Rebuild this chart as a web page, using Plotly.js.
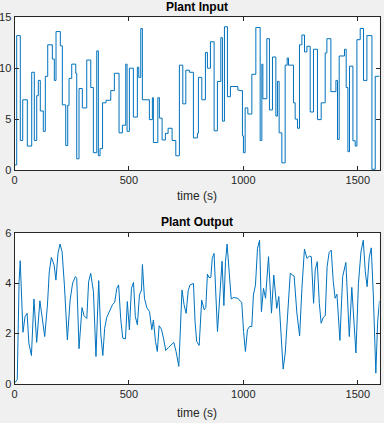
<!DOCTYPE html>
<html>
<head>
<meta charset="utf-8">
<script src="https://cdn.plot.ly/plotly-3.0.1.min.js"></script>
<style>html,body{margin:0;padding:0;background:#f0f0f0;}#chart{width:384px;height:423px;}</style>
</head>
<body>
<div id="chart"></div>
<script>
// Plant input (stairs): step start times (s) and held values
const inputTime = [0, 9.6, 25.4, 35.9, 56, 75.2, 86.6, 97.1, 104.1, 112.8, 125.9, 134.7, 145.2, 165.3, 174, 181.5, 200.3, 209, 223.9, 232.6, 238.3, 250.1, 267.6, 272, 282, 296.5, 315.7, 333.2, 344.6, 359.4, 366.4, 373.9, 384.8, 400.1, 420.6, 436.4, 456.9, 471.4, 486.2, 491.9, 502, 519.5, 536.9, 543.1, 551.8, 558.8, 589.4, 602.5, 606.9, 626.2, 633.1, 645, 659.4, 671.2, 688.7, 704.9, 720.6, 735.5, 748.6, 764.3, 781.8, 799.3, 803.7, 818.5, 834.3, 843, 856.2, 872.3, 886.7, 901.6, 908.6, 917.4, 930.5, 943.6, 976, 983, 996.1, 1000.4, 1007.9, 1019.7, 1037.2, 1054.6, 1073.5, 1080.9, 1085.3, 1102.7, 1114.1, 1127.3, 1142.1, 1149.1, 1156.5, 1168.3, 1182.8, 1191.5, 1197.2, 1219.1, 1226.5, 1236.6, 1245.3, 1255.8, 1267.2, 1277.7, 1292.1, 1306.5, 1324, 1340.2, 1357.7, 1365.1, 1382.6, 1404.5, 1411.5, 1418.9, 1442.1, 1449.5, 1456.9, 1463.9, 1478.8, 1488.9, 1496.3, 1510.7, 1525.2, 1540, 1561.9, 1576.3, 1595];
const inputValue = [0.5, 13.2, 2.9, 6.9, 2.35, 9.6, 2.9, 7.3, 8.8, 5.8, 3.8, 9.2, 12.3, 10.9, 8.8, 13.6, 12.2, 6.4, 2.4, 6.35, 9.0, 10.4, 9.5, 1.1, 8.0, 6.1, 10.8, 8.1, 1.7, 11.7, 1.4, 2.1, 6.6, 6.85, 7.8, 9.5, 3.65, 4.4, 10.4, 3.8, 10.0, 5.2, 10.1, 9.1, 13.9, 6.9, 4.95, 7.1, 2.7, 7.1, 5.1, 2.95, 3.6, 4.1, 2.9, 1.4, 10.3, 6.5, 9.8, 9.6, 3.15, 3.6, 9.1, 6.9, 11.55, 10.0, 12.6, 3.85, 8.7, 13.0, 4.8, 14.07, 7.2, 8.2, 7.85, 7.8, 3.35, 1.7, 6.1, 5.5, 9.4, 14.0, 2.9, 10.4, 7.0, 12.9, 5.9, 11.1, 5.3, 8.7, 3.65, 0.7, 10.3, 11.0, 10.3, 6.6, 5.0, 4.1, 12.3, 13.26, 11.6, 12.15, 5.7, 11.86, 4.95, 6.6, 11.5, 12.9, 7.7, 8.8, 3.0, 11.2, 11.86, 8.1, 1.8, 10.2, 2.87, 2.35, 12.8, 13.9, 8.8, 13.2, 0.07, 9.2, 9.2];

// Plant output: sample times (s) and values
const outputTime = [0, 12, 20, 25, 37, 46, 55, 63, 74, 85, 97, 111, 120, 132, 144, 152, 161, 173, 181, 190, 199, 208, 218, 231, 243, 254, 266, 272, 282, 295, 304, 316, 324, 333, 345, 356, 368, 377, 386, 394, 403, 412, 420, 429, 438, 447, 455, 464, 473, 485, 493, 502, 511, 520, 528, 537, 546, 555, 559, 568, 578, 590, 600, 607, 616, 624, 632, 642, 651, 661, 673, 683, 696, 706, 718, 732, 741, 750, 759, 767, 782, 789, 796, 807, 818, 829, 836, 843, 850, 858, 864, 872, 878, 887, 896, 907, 915, 922, 929, 938, 947, 957, 976, 986, 993, 1001, 1009, 1018, 1027, 1037, 1044, 1053, 1062, 1071, 1079, 1088, 1097, 1110, 1123, 1133, 1146, 1155, 1164, 1174, 1183, 1195, 1205, 1215, 1222, 1234, 1246, 1256, 1267, 1278, 1288, 1297, 1307, 1314, 1323, 1332, 1340, 1349, 1358, 1366, 1375, 1384, 1393, 1401, 1409, 1422, 1434, 1448, 1463, 1474, 1492, 1503, 1514, 1524, 1533, 1541, 1550, 1559, 1568, 1579, 1587, 1595];
const outputValue = [0.04, 0.17, 4.06, 4.89, 2.05, 2.67, 2.8, 1.6, 1.13, 3.37, 1.65, 3.3, 2.7, 1.88, 3.13, 4.45, 5.02, 4.72, 4.12, 5.18, 5.55, 5.24, 3.93, 1.75, 3.33, 4.0, 4.26, 4.19, 1.4, 3.03, 2.71, 2.6, 4.06, 4.39, 3.66, 1.09, 4.1, 1.98, 1.13, 2.21, 2.64, 2.8, 3.0, 3.16, 3.24, 3.79, 3.93, 2.6, 1.82, 1.79, 3.27, 2.15, 3.79, 4.03, 2.67, 2.35, 3.53, 3.73, 4.74, 3.4, 3.03, 2.87, 2.15, 2.54, 1.69, 1.29, 2.31, 2.17, 1.82, 1.33, 1.45, 1.55, 1.65, 1.29, 0.7, 3.73, 3.14, 2.8, 3.7, 3.93, 3.99, 2.48, 1.69, 1.53, 3.33, 2.94, 3.03, 4.36, 4.22, 4.23, 4.98, 5.18, 3.93, 2.08, 3.33, 4.87, 3.11, 4.85, 5.55, 4.32, 3.37, 3.43, 3.4, 3.29, 3.24, 2.08, 1.29, 2.15, 2.28, 2.28, 3.53, 3.93, 5.38, 5.7, 2.87, 3.79, 3.4, 5.05, 2.81, 4.32, 3.0, 3.47, 2.08, 0.59, 1.23, 3.0, 4.39, 4.32, 4.28, 2.81, 1.91, 3.79, 5.35, 4.98, 5.07, 5.05, 3.2, 4.52, 4.85, 3.2, 2.41, 2.64, 2.71, 4.65, 5.22, 5.31, 4.06, 3.4, 3.56, 1.73, 4.26, 4.82, 1.88, 3.83, 1.23, 3.99, 5.24, 5.7, 4.45, 3.86, 5.01, 5.4, 3.53, 0.43, 2.48, 3.3];

const xTicks = [0, 500, 1000, 1500];
const yTicksInput = [0, 5, 10, 15];
const yTicksOutput = [0, 2, 4, 6];
const titles = ['Plant Input', 'Plant Output'];
const xLabel = 'time (s)';

const lineColor = '#0072BD';
const axCol = '#262626';
const fontFam = '"Liberation Sans", Arial, Helvetica, sans-serif';

const baseX = {
  range: [0, 1595], tickvals: xTicks, ticktext: xTicks.map(String),
  ticks: 'inside', ticklen: 4, tickwidth: 1, tickcolor: axCol,
  showline: true, linecolor: axCol, linewidth: 1, mirror: 'ticks',
  showgrid: false, zeroline: false, fixedrange: true,
  tickfont: {family: fontFam, size: 11, color: axCol}
};
function yAx(range, ticks) {
  return {
    range: range, tickvals: ticks, ticktext: ticks.map(String),
    ticks: 'inside', ticklen: 4, tickwidth: 1, tickcolor: axCol,
    showline: true, linecolor: axCol, linewidth: 1, mirror: 'ticks',
    showgrid: false, zeroline: false, fixedrange: true,
    tickfont: {family: fontFam, size: 11, color: axCol}
  };
}

const W = 384, H = 423;
const xDom = [14.5 / W, 379.5 / W];
const yDomTop = [1 - 170 / H, 1 - 17.3 / H];
const yDomBot = [1 - 384 / H, 1 - 232.7 / H];
const cx = 196.9 / W;

function label(text, yPix, bold) {
  return {text: bold ? '<b>' + text + '</b>' : text, xref: 'paper', yref: 'paper', x: cx, y: 1 - yPix / H,
    xanchor: 'center', yanchor: 'middle', showarrow: false,
    font: {family: fontFam, size: 12, color: bold ? '#000000' : axCol}};
}

const traces = [
  {x: inputTime, y: inputValue, type: 'scatter', mode: 'lines', line: {color: lineColor, width: 1, shape: 'hv'}, xaxis: 'x', yaxis: 'y', hoverinfo: 'skip'},
  {x: outputTime, y: outputValue, type: 'scatter', mode: 'lines', line: {color: lineColor, width: 1}, xaxis: 'x2', yaxis: 'y2', hoverinfo: 'skip'}
];

const layout = {
  width: W, height: H,
  paper_bgcolor: '#f0f0f0', plot_bgcolor: '#ffffff',
  margin: {l: 0, r: 0, t: 0, b: 0, pad: 0},
  showlegend: false,
  font: {family: fontFam, size: 11, color: axCol},
  xaxis: Object.assign({}, baseX, {domain: xDom, anchor: 'y'}),
  yaxis: Object.assign(yAx([0, 15], yTicksInput), {domain: yDomTop, anchor: 'x'}),
  xaxis2: Object.assign({}, baseX, {domain: xDom, anchor: 'y2'}),
  yaxis2: Object.assign(yAx([0, 6], yTicksOutput), {domain: yDomBot, anchor: 'x2'}),
  annotations: [
    label(titles[0], 7.5, true),
    label(xLabel, 196, false),
    label(titles[1], 221.5, true),
    label(xLabel, 413, false)
  ]
};

Plotly.newPlot('chart', traces, layout, {displayModeBar: false, staticPlot: true});
</script>
</body>
</html>
